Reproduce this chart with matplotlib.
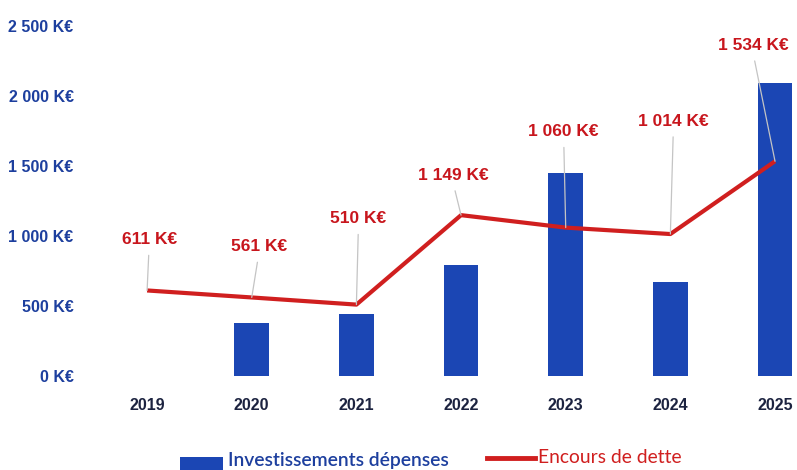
import matplotlib.pyplot as plt
from matplotlib.patches import Rectangle
from matplotlib.lines import Line2D

years = ['2019', '2020', '2021', '2022', '2023', '2024', '2025']
investissements = [0, 380, 440, 790, 1450, 670, 2090]
encours = [611, 561, 510, 1149, 1060, 1014, 1534]
encours_labels = ['611 K€', '561 K€', '510 K€', '1 149 K€', '1 060 K€', '1 014 K€', '1 534 K€']
y_ticks = [0, 500, 1000, 1500, 2000, 2500]
y_tick_labels = ['0 K€', '500 K€', '1 000 K€', '1 500 K€', '2 000 K€', '2 500 K€']

# label offsets (pixels) from each point of the line
label_offsets = [(2, 51), (7, 51), (2, 86), (-8, 40), (-2, 96), (3, 113), (-22, 116)]

BLUE = '#1b46b4'
RED = '#d01f1f'
ARIAL = ['Liberation Sans', 'DejaVu Sans']

fig = plt.figure(figsize=(7.97, 4.70), dpi=100)
ax = fig.add_axes([100 / 797, 1 - 376 / 470, 697 / 797, 364 / 470])

x = list(range(len(years)))
ax.bar(x, investissements, width=0.33, color=BLUE, zorder=2)
ax.plot(x, encours, color=RED, lw=3, zorder=4, solid_capstyle='butt')

for xi, val, lab, off in zip(x, encours, encours_labels, label_offsets):
    ax.annotate(lab, (xi, val), xytext=off, textcoords='offset pixels',
                ha='center', va='center', color='#c8161d', fontsize=12.5,
                fontweight='bold', family=ARIAL, zorder=5,
                arrowprops=dict(arrowstyle='-', color='#c4c4c4', lw=0.9,
                                shrinkA=4, shrinkB=0, relpos=(0.5, 0)))

ax.set_xlim(-0.45, 6.21)
ax.set_ylim(0, 2600)
ax.set_xticks(x)
ax.set_xticklabels(years, color='#1c2340', fontsize=11.5, fontweight='bold', family=ARIAL)
ax.set_yticks(y_ticks)
ax.set_yticklabels(y_tick_labels, color='#1d3f9e', fontsize=11.5, fontweight='bold', family=ARIAL)
ax.tick_params(axis='both', length=0)
ax.tick_params(axis='x', pad=16)
ax.tick_params(axis='y', pad=19)
for s in ax.spines.values():
    s.set_visible(False)

# legend drawn by hand, cut off at the bottom like the scan
fig.add_artist(Rectangle((180 / 797, 0), 43 / 797, 13 / 470, transform=fig.transFigure,
                         color=BLUE, lw=0))
fig.text(228 / 797, 4 / 470, 'Investissements dépenses', color='#1d3f9e', fontsize=13.9,
         fontweight='semibold', family=['Lato', 'DejaVu Sans'], va='baseline')
fig.add_artist(Line2D([487 / 797, 535 / 797], [12 / 470, 12 / 470], transform=fig.transFigure,
                      color=RED, lw=3.5))
fig.text(538 / 797, 7 / 470, 'Encours de dette', color=RED, fontsize=13.9,
         family=['Lato', 'DejaVu Sans'], va='baseline')

fig.savefig('out.png', dpi=100)
